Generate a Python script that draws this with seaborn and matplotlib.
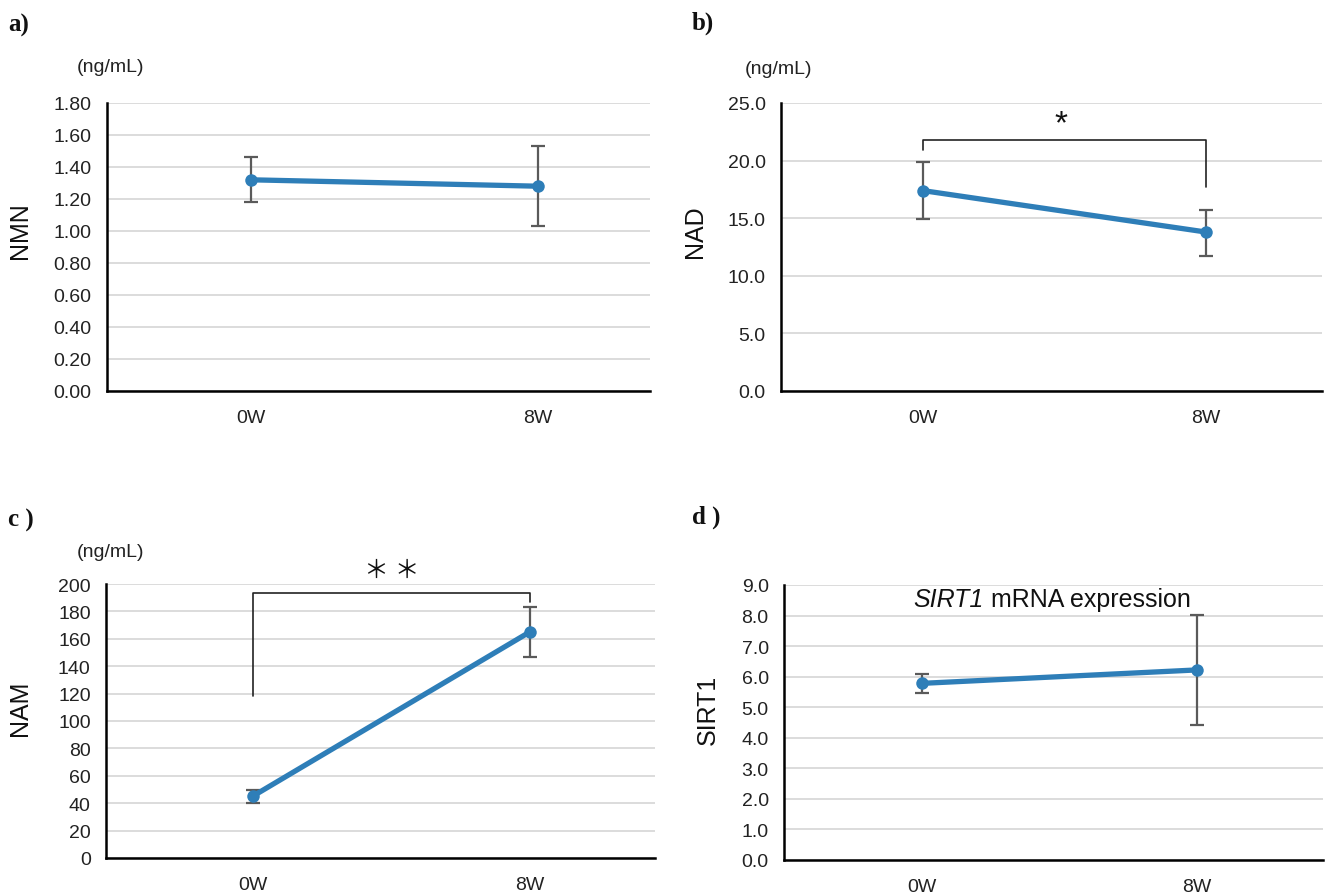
import matplotlib
matplotlib.use('Agg')
import matplotlib.pyplot as plt
import seaborn as sns
import pandas as pd
import numpy as np

# ---------------- data ----------------
categories = ['0W', '8W']

nmn_mean = [1.32, 1.28]
nmn_low = [1.18, 1.03]
nmn_high = [1.465, 1.53]

nad_mean = [17.4, 13.8]
nad_low = [14.95, 11.75]
nad_high = [19.9, 15.75]

nam_mean = [45.2, 165.2]
nam_low = [40.5, 147.0]
nam_high = [49.8, 183.0]

sirt_mean = [5.78, 6.22]
sirt_low = [5.47, 4.41]
sirt_high = [6.08, 8.02]

nmn_ticks = [0.0, 0.2, 0.4, 0.6, 0.8, 1.0, 1.2, 1.4, 1.6, 1.8]
nad_ticks = [0.0, 5.0, 10.0, 15.0, 20.0, 25.0]
nam_ticks = [0, 20, 40, 60, 80, 100, 120, 140, 160, 180, 200]
sirt_ticks = [0.0, 1.0, 2.0, 3.0, 4.0, 5.0, 6.0, 7.0, 8.0, 9.0]

# significance brackets: [bar height, left leg end, right leg end, star height]
nad_bracket = [21.75, 20.9, 17.7, 23.2]
nam_bracket = [193.6, 118.5, 186.6, 210.5]

# ---------------- style ----------------
sns.set_theme(style='white')
plt.rcParams['font.family'] = ['Liberation Sans', 'DejaVu Sans']

LINE_C = '#2e7eb8'
ERR_C = '#5a5a5a'
GRID_C = '#d9d9d9'

W, H = 1325, 895
fig = plt.figure(figsize=(W / 100, H / 100), dpi=100)
fig.patch.set_facecolor('white')


def px_axes(left, top, right, bottom):
    return fig.add_axes([left / W, 1 - bottom / H, (right - left) / W, (bottom - top) / H])


def draw_panel(ax, mean, low, high, ticks, fmt, xlim, ylabel, label_xy, tickmarks):
    pos = list(range(len(categories)))
    df = pd.DataFrame({'pos': pos, 'val': mean, 'cat': categories})
    yerr = [np.array(mean) - np.array(low), np.array(high) - np.array(mean)]
    ax.errorbar(df['pos'], df['val'], yerr=yerr, fmt='none', ecolor=ERR_C,
                elinewidth=1.6, capsize=5, capthick=1.6, zorder=2)
    sns.lineplot(data=df, x='pos', y='val', ax=ax, color=LINE_C, linewidth=3.8,
                 marker='o', markersize=9, markeredgewidth=0, zorder=3)
    ax.set_xlim(*xlim)
    ax.set_ylim(ticks[0], ticks[-1])
    ax.set_yticks(ticks)
    ax.set_yticklabels([fmt % t for t in ticks])
    ax.yaxis.grid(True, color=GRID_C, linewidth=1.3)
    ax.set_axisbelow(True)
    ax.set_xticks(pos)
    ax.set_xticklabels(categories)
    ax.tick_params(axis='x', which='major', length=0, pad=13, labelsize=14, colors='#222222')
    ax.tick_params(axis='y', length=0, pad=11, labelsize=14, colors='#222222')
    if tickmarks:
        ax.set_xticks([xlim[0], 0.5, xlim[1]], minor=True)
        ax.tick_params(axis='x', which='minor', length=7, width=1.6, color='black', direction='out')
    for s in ['top', 'right']:
        ax.spines[s].set_visible(False)
    for s in ['left', 'bottom']:
        ax.spines[s].set_color('black')
        ax.spines[s].set_linewidth(1.8)
    ax.set_xlabel('')
    ax.set_ylabel(ylabel, fontsize=18, color='#111111')
    ax.yaxis.set_label_coords(*label_xy)
    ax.set_facecolor('white')


# panel a
ax_a = px_axes(107, 104, 650, 392)
draw_panel(ax_a, nmn_mean, nmn_low, nmn_high, nmn_ticks, '%.2f', (-0.5, 1.39), 'NMN', (-0.138, 0.56), True)

# panel b
ax_b = px_axes(781, 104, 1322, 392)
draw_panel(ax_b, nad_mean, nad_low, nad_high, nad_ticks, '%.1f', (-0.5, 1.41), 'NAD', (-0.137, 0.556), True)
ax_b.plot([0, 0, 1, 1], [nad_bracket[1], nad_bracket[0], nad_bracket[0], nad_bracket[2]],
          color='#222222', linewidth=1.2, zorder=4)
ax_b.text(0.49, nad_bracket[3], '*', ha='center', va='center', fontsize=24, color='#111111')

# panel c
ax_c = px_axes(106, 585, 655, 859)
draw_panel(ax_c, nam_mean, nam_low, nam_high, nam_ticks, '%d', (-0.53, 1.45), 'NAM', (-0.135, 0.55), False)
ax_c.plot([0, 0, 1, 1], [nam_bracket[1], nam_bracket[0], nam_bracket[0], nam_bracket[2]],
          color='#222222', linewidth=1.2, zorder=4)
ax_c.text(0.5, nam_bracket[3], '＊ ＊', ha='center', va='center', fontsize=18, color='#111111',
          family=['Noto Sans CJK JP', 'DejaVu Sans'], clip_on=False)

# panel d
ax_d = px_axes(784, 586, 1323, 861)
draw_panel(ax_d, sirt_mean, sirt_low, sirt_high, sirt_ticks, '%.1f', (-0.5, 1.46), 'SIRT1', (-0.119, 0.55), False)
t1 = ax_d.text(-0.03, 8.55, 'SIRT1', ha='left', va='center', fontsize=18, style='italic', color='#111111')
ax_d.annotate(' mRNA expression', xy=(1, 0.5), xycoords=t1, ha='left', va='center',
              fontsize=18, color='#111111')

# unit labels
for (x, y) in [(110, 68), (779, 69), (110, 553)]:
    fig.text(x / W, 1 - y / H, '(ng/mL)', ha='center', va='center', fontsize=14, color='#222222')

# panel letters
for (x, y, t) in [(8, 25, 'a)'), (692, 23, 'b)'), (8, 520, 'c )'), (692, 517, 'd )')]:
    fig.text(x / W, 1 - y / H, t, ha='left', va='center', fontsize=18, fontweight='bold',
             family=['Liberation Serif', 'DejaVu Serif'], color='#111111')

fig.savefig('out.png', dpi=100, facecolor='white')
